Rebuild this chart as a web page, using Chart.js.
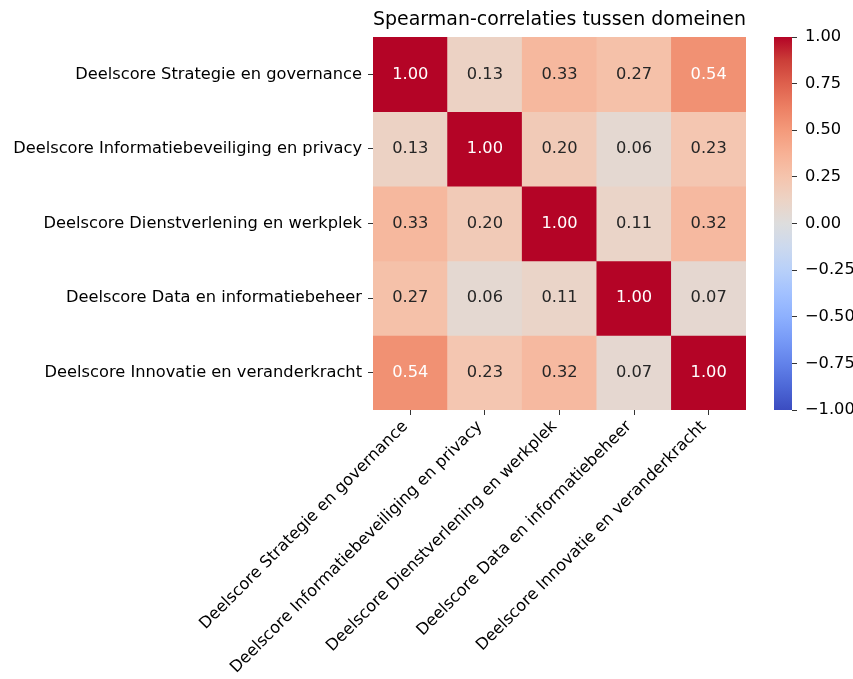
<!DOCTYPE html>
<html>
<head>
<meta charset="utf-8">
<script src="https://cdn.jsdelivr.net/npm/chart.js@4.4.0/dist/chart.umd.min.js"></script>
<style>
  body { margin: 0; background: #fff; }
  #wrap { position: relative; width: 853px; height: 679px; }
  #heat { position: absolute; left: 0; top: 0; }
  #cbar { position: absolute; left: 774px; top: 22px; }
</style>
</head>
<body>
<div id="wrap">
  <canvas id="heat" width="853" height="679"></canvas>
  <canvas id="cbar" width="79" height="403"></canvas>
</div>
<script>
// domeinen (rijen en kolommen)
const domains = [
    'Deelscore Strategie en governance',
    'Deelscore Informatiebeveiliging en privacy',
    'Deelscore Dienstverlening en werkplek',
    'Deelscore Data en informatiebeheer',
    'Deelscore Innovatie en veranderkracht'
];

// Spearman-correlaties per rij
const rowStrategie   = [1.00, 0.13, 0.33, 0.27, 0.54];
const rowInfobev     = [0.13, 1.00, 0.20, 0.06, 0.23];
const rowDienst      = [0.33, 0.20, 1.00, 0.11, 0.32];
const rowData        = [0.27, 0.06, 0.11, 1.00, 0.07];
const rowInnovatie   = [0.54, 0.23, 0.32, 0.07, 1.00];
const corrRows = [rowStrategie, rowInfobev, rowDienst, rowData, rowInnovatie];

// colorbar ticks
const cbarTicks = [-1, -0.75, -0.5, -0.25, 0, 0.25, 0.5, 0.75, 1];

const FONT = 'DejaVu Sans';
const TICK_SIZE = 16.25;

// coolwarm colormap
const coolwarm = [
    [59, 76, 192], [77, 104, 215], [98, 130, 234], [119, 154, 247],
    [141, 176, 254], [162, 193, 255], [184, 208, 249], [204, 217, 238],
    [221, 221, 221], [236, 211, 197], [245, 196, 173], [247, 177, 149],
    [244, 154, 123], [236, 127, 99], [222, 96, 77], [203, 62, 56],
    [180, 4, 38]
];

function cmapRgb(v) {
    let t = (v + 1) / 2;
    t = Math.max(0, Math.min(1, t));
    const pos = t * (coolwarm.length - 1);
    const i = Math.min(Math.floor(pos), coolwarm.length - 2);
    const f = pos - i;
    const a = coolwarm[i], b = coolwarm[i + 1];
    return [0, 1, 2].map(k => Math.round(a[k] + (b[k] - a[k]) * f));
}
function cmap(v) {
    const c = cmapRgb(v);
    return `rgb(${c[0]}, ${c[1]}, ${c[2]})`;
}
function luminance(rgb) {
    const lin = rgb.map(c => {
        c = c / 255;
        return c <= 0.03928 ? c / 12.92 : Math.pow((c + 0.055) / 1.055, 2.4);
    });
    return 0.2126 * lin[0] + 0.7152 * lin[1] + 0.0722 * lin[2];
}

// waarden in de cellen schrijven
const annotPlugin = {
    id: 'annot',
    afterDatasetsDraw(chart) {
        const ctx = chart.ctx;
        ctx.save();
        ctx.font = `${TICK_SIZE}px "${FONT}"`;
        ctx.textAlign = 'center';
        ctx.textBaseline = 'middle';
        chart.data.datasets.forEach((ds, r) => {
            chart.getDatasetMeta(r).data.forEach((bar, c) => {
                const v = corrRows[r][c];
                const p = bar.getProps(['x', 'y', 'base'], true);
                ctx.fillStyle = luminance(cmapRgb(v)) > 0.408 ? '#262626' : '#ffffff';
                ctx.fillText(v.toFixed(2), p.x, (p.y + p.base) / 2);
            });
        });
        ctx.restore();
    }
};

const datasets = corrRows.map((row, r) => ({
    label: domains[r],
    data: row.map(() => [r, r + 1]),
    backgroundColor: row.map(v => cmap(v)),
    borderWidth: 0,
    barPercentage: 1,
    categoryPercentage: 1,
    grouped: false
}));

new Chart(document.getElementById('heat'), {
    type: 'bar',
    data: { labels: domains, datasets: datasets },
    options: {
        responsive: false,
        animation: false,
        layout: { padding: { left: 0, right: 107, top: 0, bottom: 0 } },
        plugins: {
            legend: { display: false },
            tooltip: { enabled: false },
            title: {
                display: true,
                fullSize: false,
                text: 'Spearman-correlaties tussen domeinen',
                color: '#000',
                font: { family: FONT, size: 20, weight: 'normal' },
                padding: { top: 8, bottom: 5 }
            }
        },
        scales: {
            x: {
                type: 'category',
                grid: { display: true, drawOnChartArea: false, offset: false, tickLength: 5, color: '#333' },
                border: { display: false },
                ticks: {
                    autoSkip: false,
                    minRotation: 45,
                    maxRotation: 45,
                    padding: 2,
                    labelOffset: -5,
                    color: '#000',
                    font: { family: FONT, size: TICK_SIZE }
                },
                afterFit(scale) { scale.height = 269; }
            },
            y: {
                type: 'linear',
                min: 0,
                max: 5,
                reverse: true,
                grid: { display: true, drawOnChartArea: false, tickLength: 5, color: '#333' },
                border: { display: false },
                afterBuildTicks(scale) {
                    scale.ticks = domains.map((d, i) => ({ value: i + 0.5 }));
                },
                ticks: {
                    padding: 6,
                    color: '#000',
                    font: { family: FONT, size: TICK_SIZE },
                    callback: (v, i) => domains[i]
                },
                afterFit(scale) { scale.width = 373; }
            }
        }
    },
    plugins: [annotPlugin]
});

// colorbar
new Chart(document.getElementById('cbar'), {
    type: 'bar',
    data: {
        labels: [''],
        datasets: [{
            data: [[-1, 1]],
            barPercentage: 1,
            categoryPercentage: 1,
            borderWidth: 0,
            backgroundColor(context) {
                const chart = context.chart;
                const area = chart.chartArea;
                if (!area) return cmap(0);
                const g = chart.ctx.createLinearGradient(0, area.bottom, 0, area.top);
                coolwarm.forEach((c, i) => {
                    g.addColorStop(i / (coolwarm.length - 1), `rgb(${c[0]}, ${c[1]}, ${c[2]})`);
                });
                return g;
            }
        }]
    },
    options: {
        responsive: false,
        animation: false,
        layout: { padding: { left: 0, right: 0, top: 15, bottom: 15 } },
        plugins: { legend: { display: false }, tooltip: { enabled: false } },
        scales: {
            x: { display: false },
            y: {
                position: 'right',
                min: -1,
                max: 1,
                grid: { display: true, drawOnChartArea: false, tickLength: 5, color: '#333' },
                border: { display: false },
                afterBuildTicks(scale) {
                    scale.ticks = cbarTicks.map(v => ({ value: v }));
                },
                ticks: {
                    padding: 8,
                    color: '#000',
                    font: { family: FONT, size: TICK_SIZE },
                    callback: v => (v < 0 ? '\u2212' + Math.abs(v).toFixed(2) : v.toFixed(2))
                },
                afterFit(scale) {
                    scale.width = 61;
                    scale.paddingTop = 0;
                    scale.paddingBottom = 0;
                }
            }
        }
    }
});
</script>
</body>
</html>
